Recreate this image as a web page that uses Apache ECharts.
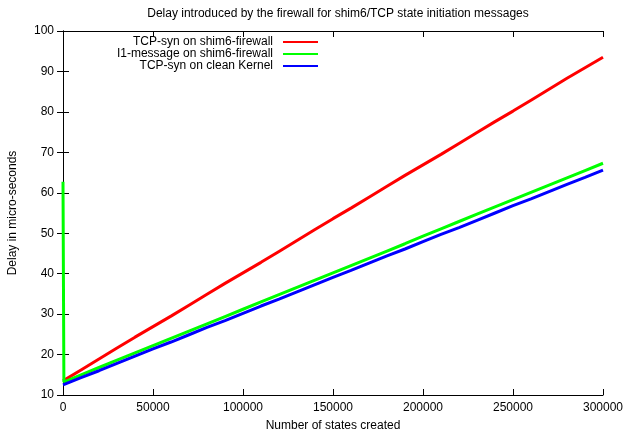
<!DOCTYPE html>
<html lang="en">
<head>
    <meta charset="UTF-8">
    <title>Firewall delay</title>
    <script src="https://cdn.jsdelivr.net/npm/echarts@6/dist/echarts.min.js"></script>
    <style>
        html, body { margin: 0; padding: 0; background: #ffffff; }
        #chart { width: 626px; height: 432px; }
    </style>
</head>
<body>
<div id="chart"></div>
<script>
    // number of states created (x values)
    var states = [0, 10000, 20000, 30000, 40000, 50000, 60000, 70000, 80000, 90000,
        100000, 110000, 120000, 130000, 140000, 150000, 160000, 170000, 180000, 190000,
        200000, 210000, 220000, 230000, 240000, 250000, 260000, 270000, 280000, 290000, 300000];

    // delay in micro-seconds
    var tcpSynFirewall = [13.5, 16.2, 18.9, 21.6, 24.3, 26.9, 29.5, 32.2, 34.9, 37.6,
        40.2, 42.8, 45.5, 48.2, 50.9, 53.6, 56.2, 58.9, 61.6, 64.3,
        66.9, 69.5, 72.2, 74.9, 77.6, 80.2, 82.9, 85.6, 88.3, 90.9, 93.5];
    var i1Firewall = [13.2, 15.0, 16.8, 18.6, 20.4, 22.2, 24.0, 25.8, 27.6, 29.4,
        31.2, 33.0, 34.8, 36.6, 38.4, 40.2, 42.0, 43.8, 45.6, 47.4,
        49.3, 51.1, 52.9, 54.7, 56.5, 58.3, 60.1, 61.9, 63.7, 65.5, 67.3];
    var i1Spike = [0, 62.7];   // first green sample, at the left border
    var tcpSynClean = [12.5, 14.3, 16.0, 17.8, 19.6, 21.4, 23.1, 24.9, 26.7, 28.4,
        30.2, 32.0, 33.7, 35.5, 37.3, 39.1, 40.8, 42.6, 44.4, 46.1,
        47.9, 49.7, 51.4, 53.2, 55.0, 56.8, 58.5, 60.3, 62.1, 63.8, 65.6];

    var seriesNames = ['TCP-syn on shim6-firewall', 'I1-message on shim6-firewall', 'TCP-syn on clean Kernel'];
    var seriesColors = ['#ff0000', '#00ff00', '#0000ff'];

    function pairs(values) {
        var out = [];
        for (var i = 0; i < states.length; i++) {
            out.push([states[i], values[i]]);
        }
        return out;
    }

    var greenData = [i1Spike].concat(pairs(i1Firewall).map(function (p, i) {
        return i === 0 ? [500, p[1]] : p;
    }));

    var font = 'Liberation Sans, Arial, Helvetica, sans-serif';
    var tick = { show: true, inside: true, length: 6, lineStyle: { color: '#000', width: 1 } };

    var legends = [];
    for (var k = 0; k < seriesNames.length; k++) {
        legends.push({
            data: [seriesNames[k]],
            right: 308,
            top: 36 + k * 12,
            align: 'right',
            icon: 'rect',
            itemWidth: 35,
            itemHeight: 2,
            padding: 0,
            selectedMode: false,
            textStyle: { fontFamily: font, fontSize: 12, color: '#000', padding: [0, 5, 0, 0] }
        });
    }

    var option = {
        backgroundColor: '#ffffff',
        animation: false,
        title: {
            text: 'Delay introduced by the firewall for shim6/TCP state initiation messages',
            left: 333,
            textAlign: 'center',
            top: 3,
            textStyle: { fontFamily: font, fontSize: 12, fontWeight: 'normal', color: '#000' }
        },
        legend: legends,
        grid: { left: 63, right: 23, top: 31, bottom: 37, containLabel: false, outerBoundsMode: 'none' },
        xAxis: [{
            type: 'value',
            min: 0,
            max: 300000,
            interval: 50000,
            name: 'Number of states created',
            nameLocation: 'middle',
            nameGap: 25,
            nameTextStyle: { fontFamily: font, fontSize: 12, color: '#000' },
            axisLine: { show: true, lineStyle: { color: '#000', width: 1 } },
            axisTick: tick,
            axisLabel: {
                fontFamily: font, fontSize: 12, color: '#000', margin: 7,
                formatter: function (v) { return String(v); }
            },
            splitLine: { show: false }
        }, {
            type: 'value',
            position: 'top',
            min: 0,
            max: 300000,
            interval: 50000,
            axisLine: { show: true, lineStyle: { color: '#000', width: 1 } },
            axisTick: tick,
            axisLabel: { show: false },
            splitLine: { show: false }
        }],
        yAxis: [{
            type: 'value',
            min: 10,
            max: 100,
            interval: 10,
            name: 'Delay in micro-seconds',
            nameLocation: 'middle',
            nameGap: 44,
            nameTextStyle: { fontFamily: font, fontSize: 12, color: '#000' },
            axisLine: { show: true, lineStyle: { color: '#000', width: 1 } },
            axisTick: tick,
            axisLabel: { fontFamily: font, fontSize: 12, color: '#000', margin: 9 },
            splitLine: { show: false }
        }, {
            type: 'value',
            position: 'right',
            min: 10,
            max: 100,
            interval: 10,
            axisLine: { show: true, lineStyle: { color: '#000', width: 1 } },
            axisTick: tick,
            axisLabel: { show: false },
            splitLine: { show: false }
        }],
        series: [{
            name: seriesNames[0],
            type: 'line',
            symbol: 'none',
            color: seriesColors[0],
            lineStyle: { width: 3, color: seriesColors[0] },
            data: pairs(tcpSynFirewall)
        }, {
            name: seriesNames[1],
            type: 'line',
            symbol: 'none',
            color: seriesColors[1],
            lineStyle: { width: 3, color: seriesColors[1] },
            data: greenData
        }, {
            name: seriesNames[2],
            type: 'line',
            symbol: 'none',
            color: seriesColors[2],
            lineStyle: { width: 3, color: seriesColors[2] },
            data: pairs(tcpSynClean)
        }]
    };

    var chart = echarts.init(document.getElementById('chart'));
    chart.setOption(option);
</script>
</body>
</html>
